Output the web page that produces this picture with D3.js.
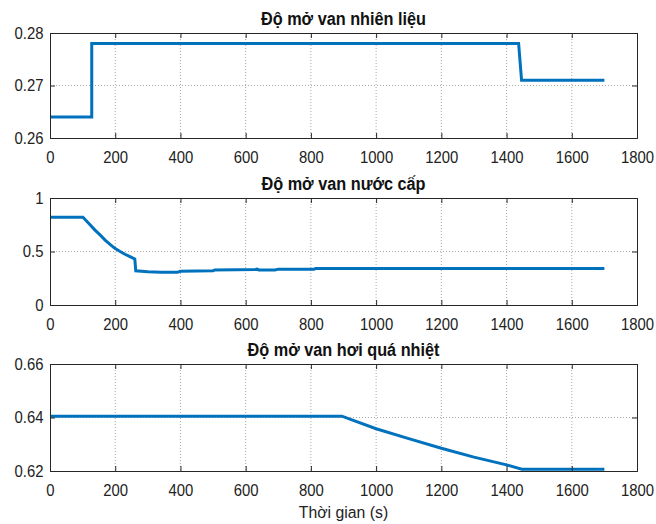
<!DOCTYPE html>
<html>
<head>
<meta charset="utf-8">
<script src="https://cdn.jsdelivr.net/npm/d3@7"></script>
<style>
  html, body { margin: 0; padding: 0; background: #fff; }
  svg { display: block; }
  .tick-label { font-family: "Liberation Sans", Arial, sans-serif; font-size: 16px; fill: #222; }
  .axis-label { font-family: "Liberation Sans", Arial, sans-serif; font-size: 17px; fill: #222; }
  .panel-title { font-family: "Liberation Sans", Arial, sans-serif; font-size: 17.5px; font-weight: bold; fill: #111; }
</style>
</head>
<body>
<svg id="chart" width="656" height="524"></svg>
<script>
// Time axis (s) shared by all three panels
const timeTicks = [0, 200, 400, 600, 800, 1000, 1200, 1400, 1600, 1800];

// Panel 1: fuel valve opening
const fuelTitle = "Độ mở van nhiên liệu";
const fuelTime  = [0, 128, 128, 1437, 1446, 1700];
const fuelValue = [0.264, 0.264, 0.278, 0.278, 0.271, 0.271];
const fuelTicks = [0.26, 0.27, 0.28];

// Panel 2: feed-water valve opening
const waterTitle = "Độ mở van nước cấp";
const waterTime  = [0, 101, 120, 138, 155, 169, 185, 199, 215, 230, 245, 260, 263, 300, 340, 390, 400, 500, 505, 630, 635, 640, 690, 700, 810, 815, 1700];
const waterValue = [0.82, 0.82, 0.76, 0.70, 0.65, 0.607, 0.565, 0.53, 0.50, 0.474, 0.452, 0.43, 0.32, 0.31, 0.305, 0.305, 0.315, 0.32, 0.328, 0.332, 0.335, 0.328, 0.328, 0.335, 0.335, 0.342, 0.342];
const waterTicks = [0, 0.5, 1];

// Panel 3: superheated steam valve opening
const steamTitle = "Độ mở van hơi quá nhiệt";
const steamTime  = [0, 895, 1000, 1100, 1200, 1300, 1400, 1447, 1700];
const steamValue = [0.6405, 0.6405, 0.6358, 0.6321, 0.6285, 0.6252, 0.6223, 0.6207, 0.6207];
const steamTicks = [0.62, 0.64, 0.66];

const xLabel = "Thời gian (s)";

const svg = d3.select("#chart");
const left = 50, right = 637;
const lineColor = "#0072BD";

const x = d3.scaleLinear().domain([0, 1800]).range([left, right]);

function fmt(v) {
  return String(+v.toFixed(2));
}

function panel(cfg) {
  const y = d3.scaleLinear().domain(cfg.domain).range([cfg.bottom, cfg.top]);
  const g = svg.append("g");

  // dotted grid
  g.append("g").selectAll("line").data(timeTicks.slice(1, -1)).join("line")
    .attr("x1", d => x(d)).attr("x2", d => x(d))
    .attr("y1", cfg.top).attr("y2", cfg.bottom)
    .attr("stroke", "#a8a8a8").attr("stroke-width", 1).attr("stroke-dasharray", "1,2");
  g.append("g").selectAll("line").data(cfg.ticks.slice(1, -1)).join("line")
    .attr("x1", left).attr("x2", right)
    .attr("y1", d => y(d)).attr("y2", d => y(d))
    .attr("stroke", "#a8a8a8").attr("stroke-width", 1).attr("stroke-dasharray", "1,2");

  // data line
  const pts = cfg.t.map((t, i) => [t, cfg.v[i]]);
  g.append("path").datum(pts)
    .attr("fill", "none").attr("stroke", lineColor).attr("stroke-width", 3)
    .attr("d", d3.line().x(d => x(d[0])).y(d => y(d[1])));

  // axes with inward ticks on all four sides
  const tl = 5;
  const bottomAxis = d3.axisBottom(x).tickValues(timeTicks).tickSize(-tl).tickPadding(14).tickFormat(d3.format("d"));
  const topAxis = d3.axisTop(x).tickValues(timeTicks).tickSize(-tl).tickFormat("");
  const leftAxis = d3.axisLeft(y).tickValues(cfg.ticks).tickSize(-tl).tickPadding(7).tickFormat(fmt);
  const rightAxis = d3.axisRight(y).tickValues(cfg.ticks).tickSize(-tl).tickFormat("");

  const axes = [
    g.append("g").attr("transform", `translate(0,${cfg.bottom})`).call(bottomAxis),
    g.append("g").attr("transform", `translate(0,${cfg.top})`).call(topAxis),
    g.append("g").attr("transform", `translate(${left},0)`).call(leftAxis),
    g.append("g").attr("transform", `translate(${right},0)`).call(rightAxis)
  ];
  axes.forEach(a => {
    a.select(".domain").attr("stroke", "#262626").attr("stroke-width", 1);
    a.selectAll(".tick line").attr("stroke", "#262626");
    a.selectAll(".tick text").attr("class", "tick-label")
      .attr("transform", "scale(0.93,1)");
    a.attr("font-size", null).attr("font-family", null);
  });

  g.append("text").attr("class", "panel-title")
    .attr("x", (left + right) / 2).attr("y", cfg.top - 8)
    .attr("text-anchor", "middle")
    .attr("transform", `translate(${(left + right) / 2 * 0.07},0) scale(0.93,1)`)
    .text(cfg.title);
}

panel({ title: fuelTitle, t: fuelTime, v: fuelValue, ticks: fuelTicks, domain: [0.26, 0.28], top: 33, bottom: 138 });
panel({ title: waterTitle, t: waterTime, v: waterValue, ticks: waterTicks, domain: [0, 1], top: 198, bottom: 305 });
panel({ title: steamTitle, t: steamTime, v: steamValue, ticks: steamTicks, domain: [0.62, 0.66], top: 364, bottom: 471 });

svg.append("text").attr("class", "axis-label")
  .attr("x", (left + right) / 2).attr("y", 518)
  .attr("text-anchor", "middle")
  .attr("transform", `translate(${(left + right) / 2 * 0.07},0) scale(0.93,1)`)
  .text(xLabel);
</script>
</body>
</html>
